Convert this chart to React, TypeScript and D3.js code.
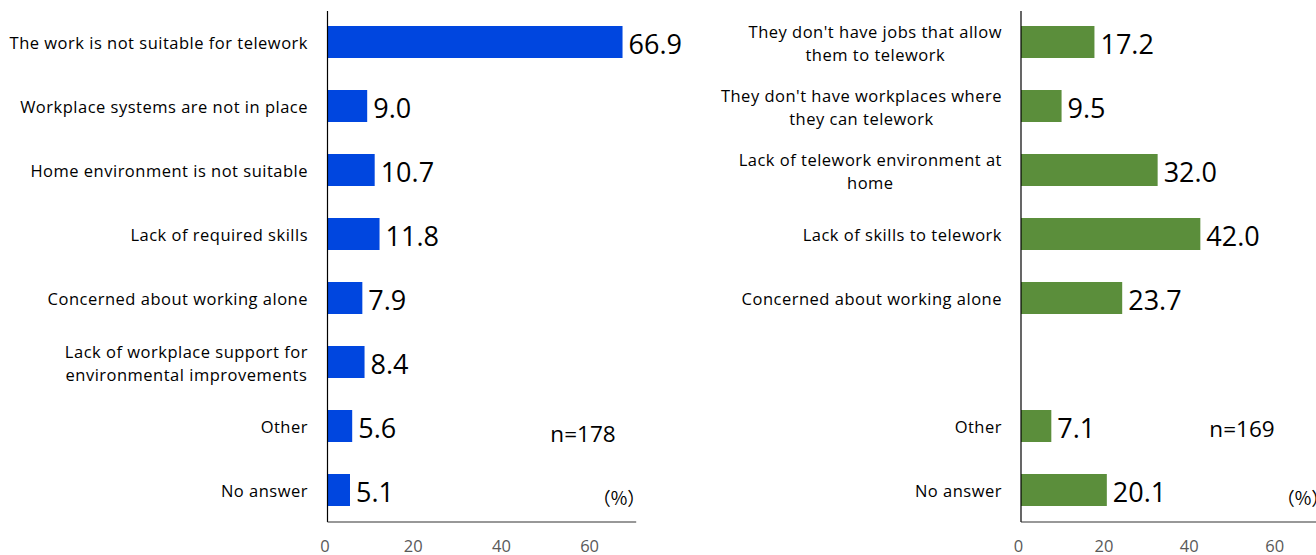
import React, { useEffect, useRef } from 'react';
import * as d3 from 'd3';

const leftCategories = [
  'The work is not suitable for telework',
  'Workplace systems are not in place',
  'Home environment is not suitable',
  'Lack of required skills',
  'Concerned about working alone',
  'Lack of workplace support for\nenvironmental improvements',
  'Other',
  'No answer',
];
const leftValues: (number | null)[] = [66.9, 9.0, 10.7, 11.8, 7.9, 8.4, 5.6, 5.1];

const rightCategories = [
  "They don't have jobs that allow\nthem to telework",
  "They don't have workplaces where\nthey can telework",
  'Lack of telework environment at\nhome',
  'Lack of skills to telework',
  'Concerned about working alone',
  '',
  'Other',
  'No answer',
];
const rightValues: (number | null)[] = [17.2, 9.5, 32.0, 42.0, 23.7, null, 7.1, 20.1];

const tickValues = [0, 20, 40, 60];
const leftNote = 'n=178';
const rightNote = 'n=169';
const unitNote = '（%）';

const W = 1316;
const H = 555;
const FONT = "'Open Sans', sans-serif";

interface Panel {
  cats: string[];
  vals: (number | null)[];
  x0: number;
  pxPerUnit: number;
  labelRight: number;
  color: string;
  note: string;
  noteX: number;
  noteY: number;
  unitX: number;
  unitY: number;
}

const panels: Panel[] = [
  {
    cats: leftCategories, vals: leftValues, x0: 327.5, pxPerUnit: 4.41, labelRight: 308,
    color: '#0046DF', note: leftNote, noteX: 583, noteY: 433, unitX: 619, unitY: 497,
  },
  {
    cats: rightCategories, vals: rightValues, x0: 1021, pxPerUnit: 4.27, labelRight: 1002,
    color: '#5B8E3B', note: rightNote, noteX: 1242, noteY: 428, unitX: 1303, unitY: 497,
  },
];

export default function App() {
  const ref = useRef<SVGSVGElement | null>(null);

  useEffect(() => {
    const svg = d3.select(ref.current);
    svg.selectAll('*').remove();

    panels.forEach((p) => {
      const g = svg.append('g');
      const x = d3.scaleLinear().domain([0, 70]).range([p.x0, p.x0 + 70 * p.pxPerUnit]);
      const y = d3.scaleBand<number>()
        .domain(d3.range(p.cats.length))
        .range([10, 522])
        .paddingInner(0.5)
        .paddingOuter(0.25);

      const present = p.vals.map((v, i) => ({ v, i })).filter(d => d.v !== null);

      // bars
      g.selectAll('rect.bar')
        .data(present)
        .enter()
        .append('rect')
        .attr('x', x(0))
        .attr('y', d => y(d.i)!)
        .attr('width', d => x(d.v as number) - x(0))
        .attr('height', y.bandwidth())
        .attr('fill', p.color);

      // value labels
      g.selectAll('text.val')
        .data(present)
        .enter()
        .append('text')
        .attr('x', d => x(d.v as number) + 6)
        .attr('y', d => y(d.i)! + y.bandwidth() / 2 + 1)
        .attr('dominant-baseline', 'central')
        .attr('font-family', FONT)
        .attr('font-size', 27)
        .attr('fill', '#000')
        .text(d => (d.v as number).toFixed(1));

      // axes lines
      g.append('line')
        .attr('x1', x(0)).attr('x2', x(0)).attr('y1', 11).attr('y2', 522)
        .attr('stroke', '#000').attr('stroke-width', 1.2);
      g.append('line')
        .attr('x1', x(0)).attr('x2', x(70)).attr('y1', 522).attr('y2', 522)
        .attr('stroke', '#333').attr('stroke-width', 1.2);

      // tick labels
      g.selectAll('text.tick')
        .data(tickValues)
        .enter()
        .append('text')
        .attr('x', d => x(d) - 2.5)
        .attr('y', 545)
        .attr('text-anchor', 'middle')
        .attr('dominant-baseline', 'central')
        .attr('font-family', FONT)
        .attr('font-size', 16.5)
        .attr('fill', '#595959')
        .text(d => String(d));

      // category labels
      p.cats.forEach((c, i) => {
        if (!c) return;
        const lines = c.split('\n');
        const lh = 23;
        const cy = y(i)! + y.bandwidth() / 2;
        const t = g.append('text')
          .attr('font-family', FONT)
          .attr('font-size', 16.5)
          .attr('letter-spacing', 0.5)
          .attr('fill', '#000')
          .attr('text-anchor', 'middle')
          .attr('dominant-baseline', 'central');
        const spans = lines.map((l, li) =>
          t.append('tspan')
            .attr('y', cy + (li - (lines.length - 1) / 2) * lh)
            .text(l)
        );
        let maxW = 0;
        spans.forEach(s => {
          const node = s.node() as SVGTSpanElement;
          maxW = Math.max(maxW, node.getComputedTextLength());
        });
        spans.forEach(s => s.attr('x', p.labelRight - maxW / 2));
      });

      // notes
      g.append('text')
        .attr('x', p.noteX).attr('y', p.noteY)
        .attr('text-anchor', 'middle').attr('dominant-baseline', 'central')
        .attr('font-family', FONT).attr('font-size', 22.5).attr('fill', '#000')
        .text(p.note);
      g.append('text')
        .attr('x', p.unitX).attr('y', p.unitY)
        .attr('text-anchor', 'middle').attr('dominant-baseline', 'central')
        .attr('font-family', "'Noto Sans CJK JP', sans-serif").attr('font-size', 18).attr('fill', '#000')
        .text(unitNote);
    });
  }, []);

  return (
    <svg
      ref={ref}
      width={W}
      height={H}
      style={{ position: 'absolute', left: 0, top: 0, background: '#fff' }}
    />
  );
}
